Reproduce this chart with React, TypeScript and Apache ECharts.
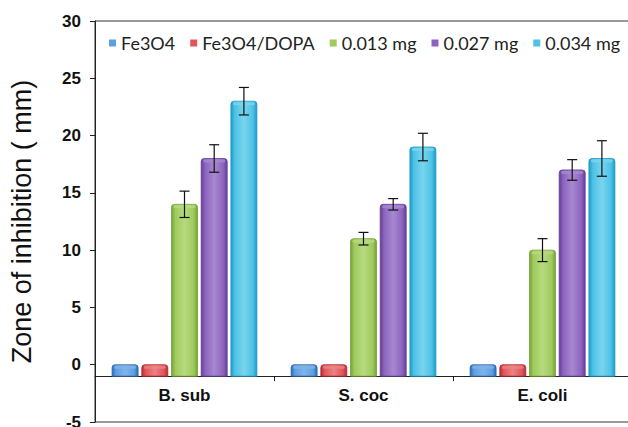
import React, { useEffect, useRef } from "react";
import * as echarts from "echarts";

const categories = ["B. sub", "S. coc", "E. coli"];
const seriesNames = ["Fe3O4", "Fe3O4/DOPA", "0.013 mg", "0.027 mg", "0.034 mg"];
const fe3o4 = [0, 0, 0];
const fe3o4Dopa = [0, 0, 0];
const mg013 = [14, 11, 10];
const mg027 = [18, 14, 17];
const mg034 = [23, 19, 18];
const err013 = [1.15, 0.55, 1.0];
const err027 = [1.2, 0.5, 0.9];
const err034 = [1.2, 1.2, 1.55];
const errZero = [0, 0, 0];
const yTicks = { min: -5, max: 30, interval: 5 };
const BASE = -1;

const values = [fe3o4, fe3o4Dopa, mg013, mg027, mg034];
const errors = [errZero, errZero, err013, err027, err034];
const palette = [
  ["#2C69B0", "#5E9FE0", "#7FB4EA"],
  ["#B42A30", "#E0565B", "#EC8285"],
  ["#76A236", "#9FCA5D", "#B7DA80"],
  ["#653C96", "#8C64BE", "#A788D0"],
  ["#1C9AC5", "#4CC2E6", "#7AD4EE"],
];

const W = 628;
const H = 427;
const GRID_TOP = 21;
const GRID_BOTTOM = 5;

export default function App() {
  const ref = useRef<HTMLDivElement>(null);
  useEffect(() => {
    if (!ref.current) return;
    const chart = echarts.init(ref.current, null, { renderer: "svg" });
    const series = seriesNames.map((name, i) => ({
      type: "custom",
      name,
      xAxisIndex: 0,
      yAxisIndex: 0,
      itemStyle: { color: palette[i][1] },
      encode: { x: 0, y: 1 },
      data: categories.map((_, c) => [c, values[i][c], errors[i][c]]),
      renderItem: (params: any, api: any) => {
        const cat = api.value(0);
        const v = api.value(1);
        const e = api.value(2);
        const band = api.size([1, 0])[0];
        const bw = (band * 26) / 179;
        const pitch = (band * 29.7) / 179;
        const cx = api.coord([cat, 0])[0] + (i - 2) * pitch;
        const base = api.coord([cat, BASE])[1];
        const top = api.coord([cat, v])[1];
        const [dark, mid, light] = palette[i];
        const children: any[] = [
          {
            type: "rect",
            shape: { x: cx - bw / 2, y: top, width: bw, height: base - top, r: [3, 3, 0, 0] },
            style: {
              fill: new echarts.graphic.LinearGradient(0, 0, 1, 0, [
                { offset: 0, color: dark },
                { offset: 0.15, color: mid },
                { offset: 0.5, color: light },
                { offset: 0.85, color: mid },
                { offset: 1, color: dark },
              ]),
              stroke: dark,
              lineWidth: 0.8,
            },
          },
          {
            type: "rect",
            shape: { x: cx - bw / 2 + 2, y: top + 1, width: bw - 4, height: 3, r: 1.5 },
            style: { fill: light, opacity: 0.8 },
          },
        ];
        if (e > 0) {
          const yHi = api.coord([cat, v + e])[1];
          const yLo = api.coord([cat, v - e])[1];
          const cw = 5;
          const st = { stroke: "#111", lineWidth: 1.2 };
          children.push(
            { type: "line", shape: { x1: cx, y1: yHi, x2: cx, y2: yLo }, style: st },
            { type: "line", shape: { x1: cx - cw, y1: yHi, x2: cx + cw, y2: yHi }, style: st },
            { type: "line", shape: { x1: cx - cw, y1: yLo, x2: cx + cw, y2: yLo }, style: st }
          );
        }
        return { type: "group", children };
      },
    }));

    const gridH = H - GRID_TOP - GRID_BOTTOM;
    const axisOffset = -((BASE - yTicks.min) / (yTicks.max - yTicks.min)) * gridH;

    chart.setOption({
      animation: false,
      backgroundColor: "#fff",
      grid: {
        left: 95,
        top: GRID_TOP,
        right: -4,
        bottom: GRID_BOTTOM,
        containLabel: false,
        outerBoundsMode: "none",
        show: true,
        borderColor: "#333",
        borderWidth: 1,
      },
      legend: {
        data: seriesNames,
        left: 109,
        top: 34,
        width: 700,
        padding: 0,
        icon: "rect",
        itemWidth: 7,
        itemHeight: 7,
        itemGap: 15,
        textStyle: { fontFamily: "Lato", fontSize: 18, color: "#222" },
      },
      xAxis: {
        type: "category",
        data: categories,
        offset: axisOffset,
        axisLine: { onZero: false, lineStyle: { color: "#222", width: 1 } },
        axisTick: { show: true, length: 5, inside: false, lineStyle: { color: "#222" } },
        axisLabel: {
          margin: 11,
          fontFamily: "Liberation Sans",
          fontWeight: "bold",
          fontSize: 17,
          color: "#111",
        },
        splitLine: { show: false },
      },
      yAxis: {
        type: "value",
        min: yTicks.min,
        max: yTicks.max,
        interval: yTicks.interval,
        name: "Zone of inhibition ( mm)",
        nameLocation: "middle",
        nameGap: 60,
        nameTextStyle: { fontFamily: "Liberation Sans", fontSize: 27, color: "#111" },
        axisLine: { show: true, lineStyle: { color: "#222" } },
        axisTick: { show: true, length: 5, lineStyle: { color: "#222" } },
        axisLabel: {
          margin: 14,
          fontFamily: "Liberation Sans",
          fontWeight: "bold",
          fontSize: 17,
          color: "#111",
        },
        splitLine: { show: false },
      },
      series,
    });
    return () => chart.dispose();
  }, []);
  return (
    <div
      ref={ref}
      style={{ position: "absolute", left: 0, top: 0, width: W, height: H }}
    />
  );
}
